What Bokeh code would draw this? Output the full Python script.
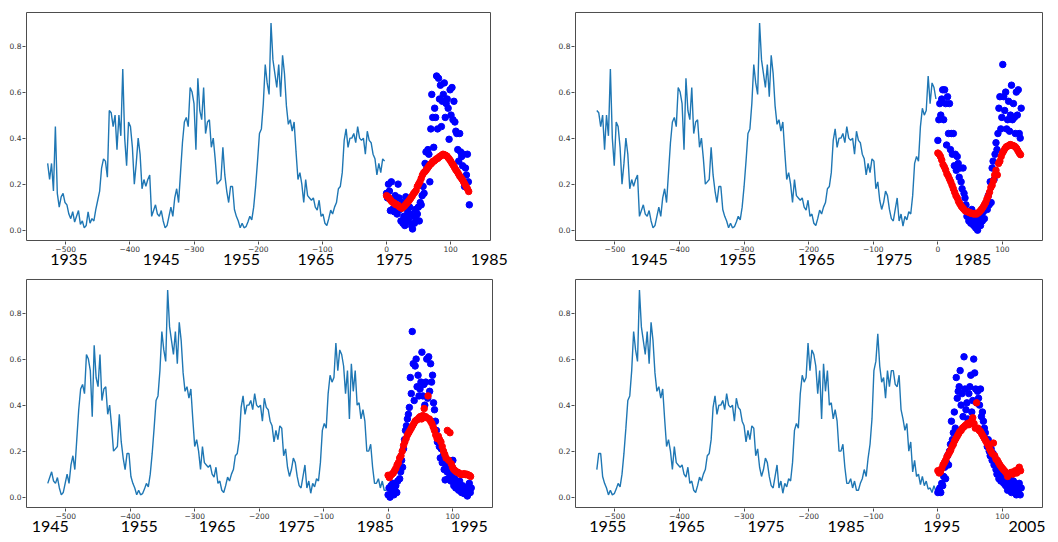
from bokeh.plotting import figure
from bokeh.layouts import column, row
from bokeh.models import FixedTicker, LinearAxis, Range1d, BoxAnnotation
from bokeh.embed import file_html
from bokeh.resources import INLINE

# ---------------- data ----------------
# normalised monthly series, sampled every 3 months (one long record; each panel shows a 528-month window of it)
SERIES = [
    .29, .22, .29, .17, .45, .16, .10, .145, .16, .12,
    .11, .07, .05, .08, .035, .06, .085, .025, .04, .01,
    .02, .08, .03, .05, .04, .09, .13, .17, .27, .31,
    .30, .23, .52, .51, .45, .50, .35, .50, .41, .70,
    .40, .28, .47, .45, .36, .20, .29, .40, .33, .18,
    .22, .19, .22, .24, .06, .085, .11, .07, .06, .085,
    .04, .01, .02, .06, .10, .06, .14, .18, .12, .25,
    .38, .47, .49, .45, .62, .60, .55, .35, .66, .52,
    .48, .62, .42, .47, .48, .36, .40, .31, .20, .21,
    .22, .36, .24, .17, .12, .19, .19, .09, .06, .04,
    .01, .03, .01, .015, .035, .06, .045, .10, .19, .30,
    .42, .44, .55, .72, .64, .59, .90, .74, .68, .62,
    .72, .58, .76, .68, .54, .46, .48, .43, .47, .34,
    .22, .25, .20, .12, .22, .15, .14, .13, .14, .10,
    .087, .13, .06, .07, .03, .02, .05, .087, .07, .10,
    .12, .18, .19, .25, .39, .44, .36, .40, .40, .42,
    .38, .45, .40, .39, .40, .33, .43, .39, .38, .33,
    .31, .24, .29, .25, .31, .30,
    .18, .21, .13, .09,
    .12, .17, .15, .09, .05, .04, .09, .14, .04, .07,
    .017, .06, .045, .08, .07, .15, .29, .32, .30, .45,
    .53, .50, .52, .67, .55, .64, .62, .57,
    .45, .55,
    .34, .58, .46, .55, .40, .41, .34, .38, .33, .20,
    .20, .23, .13, .06, .06, .08, .04, .07, .03,
    .03,
    .06, .08, .12, .09, .17, .23, .34, .55, .59, .71,
    .57, .50, .52, .43, .55, .48, .55, .55, .49, .48,
    .53, .38, .34, .29, .32, .20, .24, .11, .16, .09,
    .10, .055, .09, .05, .07, .035, .04, .02, .05, .025,
]
SERIES_STEP = 3          # months per sample
WINDOW_LEN = 176         # samples per panel (528 months)
PANEL_START = [0, 32, 54, 94]   # first sample of each panel's window

# actual values after x = 0 (blue), every 1.5 months
BLUE_STEP = 1.5
BLUE_1 = [.16, .14, .20, .17, .085, .21, .09, .13, .08, .15, .11, .07, .20, .14, .09, .04, .12, .03, .06, .02,
          .145, .05, .08, .04, .10, .07, .02, .005, .06, .03, .09, .045, .07, .10, .04, .12, .11, .15, .19, .16,
          .29, .34, .27, .35, .33, .21, .44, .59, .49, .36, .53, .49, .67, .44, .66, .57, .63, .45, .56, .59,
          .64, .49, .55, .57, .53, .395, .61, .50, .62, .48, .56, .47, .43, .42, .35, .30, .42, .34, .32, .28,
          .33, .19, .27, .24, .33, .21, .11]
BLUE_2 = [.39, .48, .55, .50, .57, .61, .48, .61, .55, .37, .58, .42, .55, .35, .42, .33, .42, .28, .33, .26,
          .32, .29, .23, .27, .21, .18, .27, .16, .14, .11, .06, .08, .04, .06, .03, .09, .05, .02, .06, .01,
          .04, .00, .03, .05, .02, .06, .04, .08, .05, .10, .12, .09, .15, .11, .21, .12, .27, .30, .22, .33,
          .38, .35, .42, .53, .58, .44, .49, .72, .58, .52, .60, .44, .48, .56, .43, .50, .63, .48, .55, .49,
          .42, .60, .50, .61, .42, .40, .53]
BLUE_3 = [.01, .04, .00, .05, .02, .06, .01, .03, .05, .02, .07, .12, .08, .11, .16, .13, .21, .25, .29, .31,
          .34, .36, .39, .52, .45, .72, .58, .42, .57, .60, .48, .53, .44, .47, .50, .63, .44, .49, .40, .50,
          .60, .43, .61, .46, .58, .50, .53, .41, .38, .33, .29, .24, .25, .22, .17, .21, .15, .18, .12, .075,
          .14, .11, .08, .13, .10, .07, .09, .16, .05, .08, .04, .06, .05, .03, .07, .04, .02, .05, .03, .015,
          .04, .02, .005, .03, .06, .02, .04]
BLUE_4 = [.02, .03, .04, .02, .06, .05, .09, .13, .08, .15, .18, .14, .20, .23, .33, .25, .28, .37, .30, .52,
          .43, .46, .48, .55, .40, .45, .35, .61, .47, .38, .41, .34, .45, .48, .53, .37, .42, .60, .54, .47,
          .41, .46, .43, .40, .47, .35, .37, .33, .30, .28, .25, .22, .25, .20, .18, .21, .16, .19, .14, .17,
          .12, .10, .13, .08, .11, .07, .09, .12, .06, .10, .05, .08, .03, .06, .04, .09, .02, .05, .07, .03,
          .05, .01, .04, .02, .06, .01, .04]

# predicted values after x = 0 (red), every 2 months
RED_STEP = 2
RED_1 = [.150, .145, .140, .132, .125, .120, .118, .112, .110, .108, .102, .098, .095, .100, .105, .112, .118,
         .125, .132, .140, .148, .158, .165, .172, .190, .200, .210, .225, .240, .250, .255, .262, .270, .278,
         .285, .290, .298, .300, .305, .310, .312, .318, .322, .325, .330, .328, .325, .322, .315, .308, .300,
         .290, .282, .272, .262, .255, .245, .235, .228, .220, .210, .200, .190, .180, .168]
RED_2 = [.335, .330, .320, .305, .285, .275, .262, .245, .235, .222, .210, .195, .180, .165, .150, .140, .125,
         .115, .105, .098, .092, .085, .082, .080, .078, .075, .073, .072, .070, .072, .070, .075, .078, .085,
         .092, .100, .110, .120, .135, .148, .165, .185, .195, .215, .240, .260, .240, .290, .300, .320, .335,
         .345, .355, .362, .365, .368, .372, .370, .368, .366, .362, .355, .345, .335, .328]
RED_3 = [.095, .085, .095, .100, .105, .115, .125, .140, .150, .170, .180, .200, .225, .240, .255, .270, .280,
         .290, .300, .310, .320, .330, .335, .338, .345, .350, .340, .355, .385, .350, .345, .440, .340, .330,
         .320, .305, .290, .270, .255, .265, .250, .240, .220, .200, .185, .170, .290, .160, .280, .145, .130,
         .120, .115, .110, .108, .105, .100, .098, .100, .102, .098, .100, .096, .095, .090]
RED_4 = [.115, .105, .110, .125, .140, .150, .160, .175, .185, .195, .205, .220, .230, .245, .255, .265, .275,
         .285, .290, .300, .305, .310, .315, .320, .315, .325, .330, .345, .320, .300, .410, .300, .290, .285,
         .275, .265, .255, .245, .235, .225, .210, .200, .190, .235, .180, .165, .160, .150, .140, .132, .125,
         .118, .112, .105, .090, .100, .105, .108, .100, .110, .115, .105, .120, .130, .115]

BLUE = [BLUE_1, BLUE_2, BLUE_3, BLUE_4]
RED = [RED_1, RED_2, RED_3, RED_4]

X_TICKS = [-500, -400, -300, -200, -100, 0, 100]
X_TICK_LABELS = ["\u2212500", "\u2212400", "\u2212300", "\u2212200", "\u2212100", "0", "100"]
Y_TICKS = [0.0, 0.2, 0.4, 0.6, 0.8]
Y_TICK_LABELS = ["0.0", "0.2", "0.4", "0.6", "0.8"]

YEAR_TEXT = [
    ["1935", "1945", "1955", "1965", "1975", "1985"],
    ["1945", "1955", "1965", "1975", "1985"],
    ["1945", "1955", "1965", "1975", "1985", "1995"],
    ["1955", "1965", "1975", "1985", "1995", "2005"],
]
YEAR_X = [
    [-495, -351, -226, -110, 12, 160],
    [-447, -310, -188, -68, 54],
    [-524, -386, -265, -142, -20, 126],
    [-511, -389, -266, -142, 6, 138],
]

# ---------------- styling / layout ----------------
X_RANGE = (-561, 162)
Y_RANGE = (-0.045, 0.946)
# l/r/t/b: distance of the drawn plot box from the canvas edges (px)
LAYOUT = [
    dict(w=530, h=271, l=26, r=40, t=12, b=31),
    dict(w=526, h=271, l=45, r=14, t=12, b=30),
    dict(w=530, h=270, l=26, r=38, t=8, b=32),
    dict(w=526, h=270, l=45, r=14, t=6, b=34),
]
PAD = 1
YEAR_STANDOFF = -1
LINE_COLOR = "#1f77b4"
FRAME_COLOR = "#4d4d4d"
TICK_FONT = "DejaVu Sans"
YEAR_FONT = "Lato"


def make_panel(i):
    L = LAYOUT[i]
    box_w = L["w"] - L["l"] - L["r"]
    box_h = L["h"] - L["t"] - L["b"]
    upx = (X_RANGE[1] - X_RANGE[0]) / box_w
    upy = (Y_RANGE[1] - Y_RANGE[0]) / box_h
    # the plotting frame reaches the right canvas edge so the captions are never squeezed in
    p = figure(width=L["w"], height=L["h"], output_backend="svg", toolbar_location=None,
               x_range=Range1d(X_RANGE[0] - PAD * upx, X_RANGE[1] + L["r"] * upx),
               y_range=Range1d(Y_RANGE[0] - PAD * upy, Y_RANGE[1] + PAD * upy),
               min_border_left=L["l"] - PAD, min_border_right=0,
               min_border_top=L["t"] - PAD, min_border_bottom=L["b"] - PAD)
    p.background_fill_color = "white"
    p.border_fill_color = "white"
    p.outline_line_color = None
    p.grid.visible = False
    p.add_layout(BoxAnnotation(left=X_RANGE[0], right=X_RANGE[1], bottom=Y_RANGE[0], top=Y_RANGE[1],
                               fill_alpha=0, line_color=FRAME_COLOR, line_alpha=1.0, line_width=1))

    for ax in (p.xaxis, p.yaxis):
        ax.axis_line_color = None
        ax.major_tick_line_color = FRAME_COLOR
        ax.major_tick_out = 3
        ax.major_tick_in = 0
        ax.minor_tick_line_color = None
        ax.major_label_text_font = TICK_FONT
        ax.major_label_text_font_size = "7.5px"
        ax.major_label_text_color = "#333333"
        ax.major_label_standoff = 1
    p.xaxis.ticker = FixedTicker(ticks=X_TICKS)
    p.xaxis.major_label_overrides = dict(zip(X_TICKS, X_TICK_LABELS))
    p.yaxis.ticker = FixedTicker(ticks=Y_TICKS)
    p.yaxis.major_label_overrides = dict(zip(Y_TICKS, Y_TICK_LABELS))

    # year captions: a second, tick-less axis under the first one
    years = LinearAxis(ticker=FixedTicker(ticks=YEAR_X[i]),
                       major_label_overrides=dict(zip(YEAR_X[i], YEAR_TEXT[i])))
    years.axis_line_color = None
    years.major_tick_line_color = None
    years.minor_tick_line_color = None
    years.major_tick_out = 0
    years.major_tick_in = 0
    years.major_label_standoff = YEAR_STANDOFF
    years.major_label_text_font = YEAR_FONT
    years.major_label_text_font_size = "16px"
    years.major_label_text_color = "#000000"
    p.add_layout(years, "below")

    start = PANEL_START[i]
    ys = SERIES[start:start + WINDOW_LEN]
    xs = [SERIES_STEP * j - WINDOW_LEN * SERIES_STEP for j in range(len(ys))]
    p.line(xs, ys, line_color=LINE_COLOR, line_width=1.4)

    b = BLUE[i]
    p.scatter([BLUE_STEP * j for j in range(len(b))], b, size=6.5,
              fill_color="#0000ff", line_color="#0000ff")
    r = RED[i]
    p.scatter([RED_STEP * j for j in range(len(r))], r, size=6.5,
              fill_color="#ff0000", line_color="#ff0000")
    return p


panels = [make_panel(i) for i in range(4)]
layout = column(row(panels[0], panels[1]), row(panels[2], panels[3]))

open("out.html", "w").write(file_html(layout, INLINE))
